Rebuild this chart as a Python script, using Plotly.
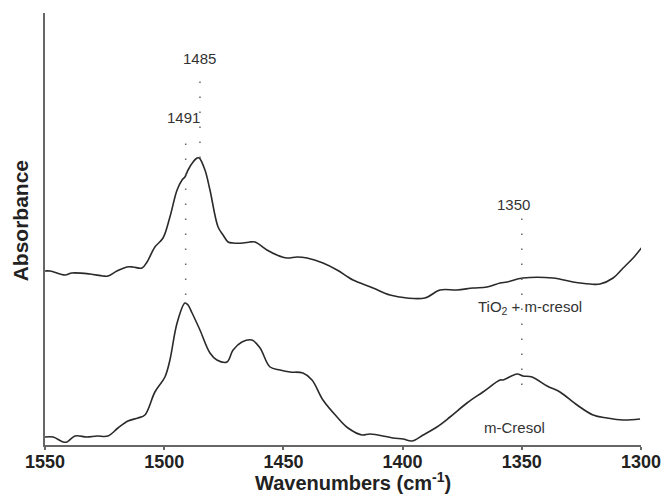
import plotly.graph_objects as go

# Upper spectrum: TiO2 + m-cresol (wavenumber cm-1, absorbance a.u.)
tio2_wn = [1550.0, 1547.9, 1541.6, 1538.7, 1531.1, 1525.7, 1523.6, 1519.8, 1515.6, 1513.1,
           1509.3, 1507.2, 1503.9, 1500.5, 1497.6, 1494.6, 1492.5, 1491.3, 1490.0, 1487.9,
           1486.2, 1485.3, 1482.9, 1480.8, 1477.4, 1475.3, 1473.2, 1471.1, 1466.9, 1464.0,
           1461.9, 1456.9, 1452.7, 1448.5, 1444.3, 1440.1, 1433.4, 1427.5, 1422.9, 1420.8,
           1412.4, 1405.3, 1398.2, 1390.6, 1384.3, 1377.2, 1370.5, 1364.6, 1359.1, 1356.2,
           1349.5, 1336.9, 1328.5, 1321.4, 1317.2, 1311.7, 1307.5, 1303.3, 1299.5]
tio2_abs = [1.74, 1.74, 1.70, 1.72, 1.71, 1.69, 1.69, 1.74, 1.78, 1.78,
            1.77, 1.83, 1.98, 2.07, 2.28, 2.55, 2.65, 2.68, 2.75, 2.83,
            2.87, 2.87, 2.75, 2.55, 2.18, 2.10, 2.03, 2.02, 2.02, 2.03,
            2.03, 1.95, 1.90, 1.87, 1.88, 1.87, 1.82, 1.75, 1.68, 1.65,
            1.57, 1.50, 1.47, 1.47, 1.55, 1.55, 1.57, 1.58, 1.62, 1.63,
            1.67, 1.67, 1.63, 1.61, 1.61, 1.67, 1.77, 1.87, 1.98]

# Lower spectrum: m-Cresol
cres_wn = [1550.0, 1546.6, 1542.4, 1540.8, 1537.4, 1532.4, 1528.2, 1523.6, 1519.4, 1515.2,
           1511.0, 1508.1, 1503.9, 1499.7, 1497.6, 1494.6, 1491.3, 1490.0, 1488.3, 1485.0,
           1480.8, 1477.9, 1473.7, 1471.1, 1467.4, 1463.2, 1459.8, 1455.6, 1451.4, 1447.2,
           1441.8, 1438.0, 1433.4, 1427.5, 1422.9, 1417.0, 1413.7, 1404.0, 1399.8, 1396.1,
           1391.4, 1385.6, 1380.1, 1373.0, 1366.3, 1359.1, 1357.9, 1352.0, 1349.5, 1345.7,
           1339.4, 1334.0, 1326.8, 1320.1, 1314.3, 1307.5, 1300.4]
cres_abs = [0.08, 0.08, 0.03, 0.03, 0.09, 0.08, 0.09, 0.09, 0.17, 0.24,
            0.27, 0.30, 0.53, 0.68, 0.85, 1.22, 1.42, 1.40, 1.32, 1.15,
            0.92, 0.85, 0.83, 0.95, 1.03, 1.05, 0.97, 0.78, 0.75, 0.73,
            0.72, 0.65, 0.45, 0.28, 0.17, 0.10, 0.11, 0.07, 0.06, 0.04,
            0.10, 0.18, 0.28, 0.42, 0.53, 0.65, 0.65, 0.71, 0.69, 0.68,
            0.59, 0.53, 0.40, 0.30, 0.27, 0.25, 0.26]

# Marked bands
band_wn = [1491, 1485, 1350]
band_labels = ["1491", "1485", "1350"]
band_top = [3.08, 3.67, 2.33]
band_bottom = [1.50, 2.87, 0.60]
band_label_x = [1492.1, 1485.0, 1353.3]
band_label_y = [3.28, 3.87, 2.41]

xticks = [1550, 1500, 1450, 1400, 1350, 1300]

FONT = "Liberation Sans, Arial, sans-serif"
LINE = "#2a2a2a"

fig = go.Figure()
fig.add_trace(go.Scatter(x=tio2_wn, y=tio2_abs, mode="lines",
                         line=dict(color=LINE, width=1.6), line_shape="spline",
                         name="TiO2 + m-cresol", showlegend=False))
fig.add_trace(go.Scatter(x=cres_wn, y=cres_abs, mode="lines",
                         line=dict(color=LINE, width=1.6), line_shape="spline",
                         name="m-Cresol", showlegend=False))

for wn, top, bot in zip(band_wn, band_top, band_bottom):
    fig.add_shape(type="line", xref="x", yref="y", x0=wn, x1=wn, y0=bot, y1=top,
                  line=dict(color="#666666", width=1.5, dash="1.5px,13.5px"))

for lx, ly, txt in zip(band_label_x, band_label_y, band_labels):
    fig.add_annotation(x=lx, y=ly, text=txt, showarrow=False, xref="x", yref="y",
                       font=dict(family=FONT, size=15, color="#333333"))

fig.add_annotation(x=1346.6, y=1.38, text="TiO<sub>2</sub> + m-cresol", showarrow=False,
                   xref="x", yref="y", font=dict(family=FONT, size=15, color="#333333"))
fig.add_annotation(x=1352.9, y=0.18, text="m-Cresol", showarrow=False,
                   xref="x", yref="y", font=dict(family=FONT, size=15, color="#333333"))

# Axis titles
fig.add_annotation(x=0.517, y=-0.118, xref="paper", yref="paper",
                   text="Wavenumbers (cm<sup>-1</sup>)", showarrow=False,
                   xanchor="center", yanchor="bottom",
                   font=dict(family=FONT, size=20, weight="bold", color="#222222"))
fig.add_annotation(x=-0.042, y=0.52, xref="paper", yref="paper",
                   text="Absorbance", showarrow=False, textangle=-90,
                   xanchor="center", yanchor="middle",
                   font=dict(family=FONT, size=21, weight="bold", color="#222222"))

fig.update_layout(
    width=662, height=496,
    margin=dict(l=45, r=21, t=13, b=51),
    paper_bgcolor="white", plot_bgcolor="white",
    font=dict(family=FONT, color="#222222"),
    xaxis=dict(range=[1550, 1300], tickvals=xticks, ticktext=[str(v) for v in xticks],
               automargin=False,
               showline=True, linecolor="#666666", linewidth=2,
               ticks="outside", ticklen=3, tickwidth=1.5, tickcolor="#666666",
               ticklabelstandoff=-4,
               showgrid=False, zeroline=False,
               tickfont=dict(family=FONT, size=18, weight="bold", color="#222222")),
    yaxis=dict(range=[0, 4.32], automargin=False,
               showline=True, linecolor="#666666", linewidth=2,
               showticklabels=False, ticks="", showgrid=False, zeroline=False),
)

fig.write_html("out.html")
